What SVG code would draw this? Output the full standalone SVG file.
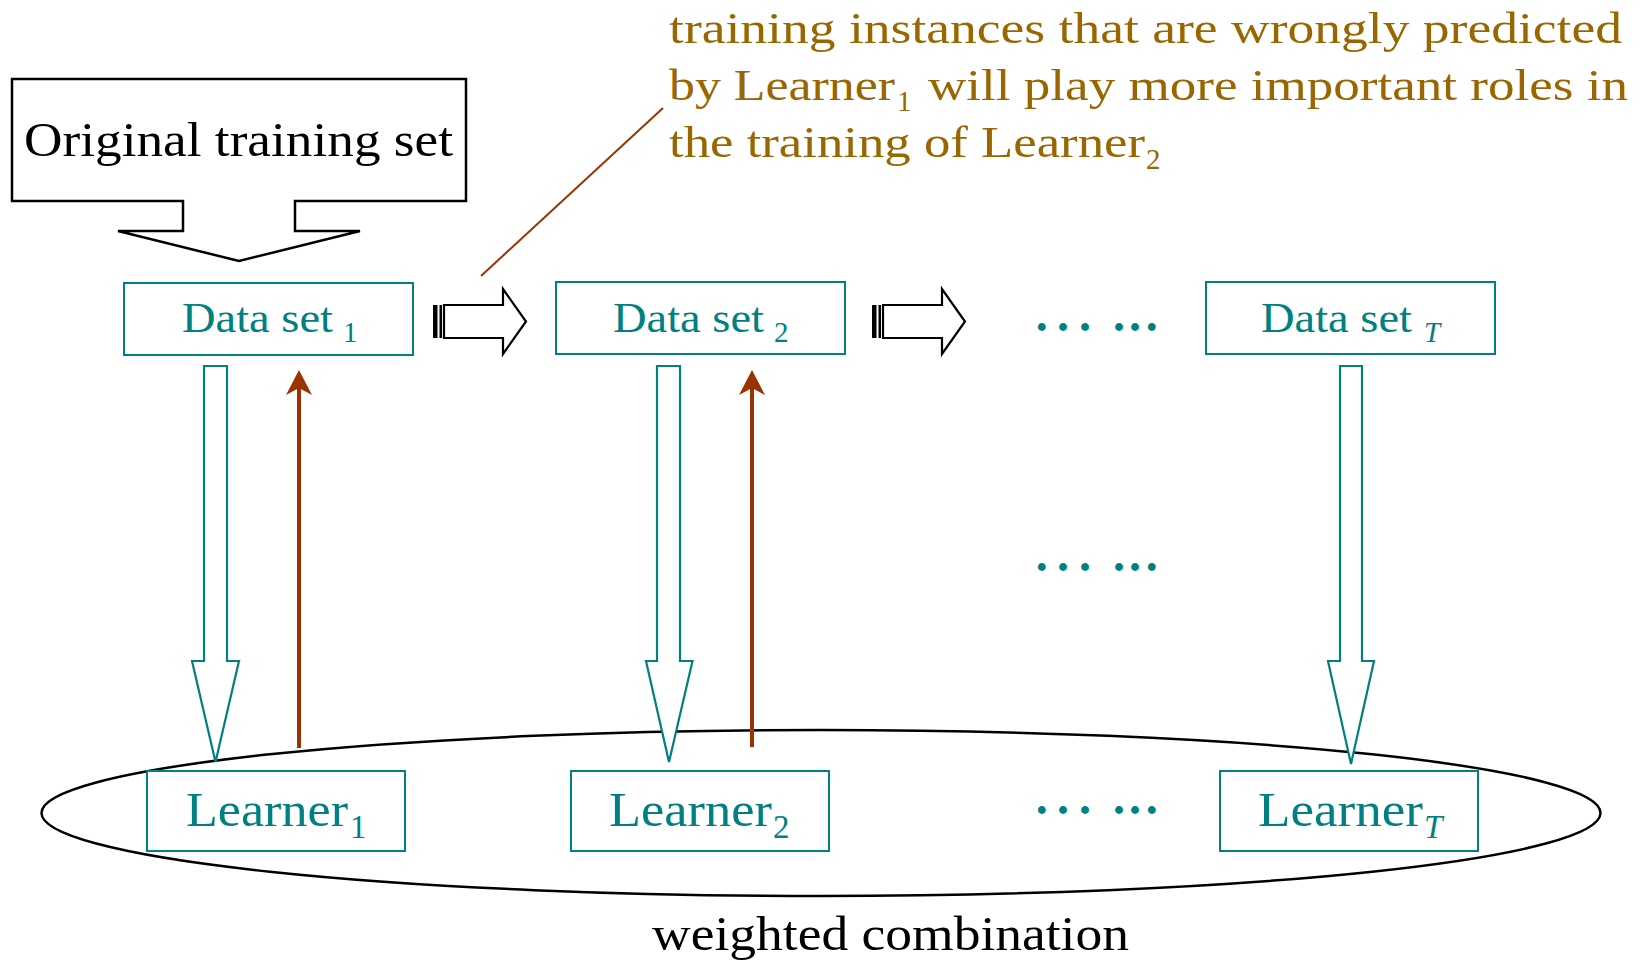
<svg xmlns="http://www.w3.org/2000/svg" width="1644" height="963" viewBox="0 0 1644 963">
<style>
  text { font-family: "Liberation Serif", "Times New Roman", serif; }
  .blk { fill: #000; }
  .teal { fill: #008080; }
  .gold { fill: #996600; }
  .tbox { fill: #fff; stroke: #008080; stroke-width: 2; }
  .tarrow { fill: #fff; stroke: #008080; stroke-width: 2.2; stroke-linejoin: miter; }
  .barrow { fill: #fff; stroke: #000; stroke-width: 2.2; }
  .red { stroke: #993300; stroke-width: 4; fill: none; }
  .callout { stroke: #993300; stroke-width: 2; fill: none; }
  .dots { font-family: "Liberation Serif", serif; font-weight: bold; font-size: 48px; fill: #008080; text-anchor: middle; }
</style>
<defs>
  <marker id="redhead" markerUnits="userSpaceOnUse" markerWidth="30" markerHeight="30" viewBox="0 0 30 30" refX="10" refY="15" orient="auto">
    <path d="M26,15 L1,2 L8,15 L1,28 Z" fill="#993300"/>
  </marker>
</defs>

<g id="connectors">
  <ellipse id="combination-ellipse" cx="821" cy="813" rx="779.5" ry="83" fill="none" stroke="#000" stroke-width="2.5"/>
  <g id="block-arrow-1">
    <rect x="433" y="305" width="4.5" height="33" fill="#000"/>
    <rect x="439.5" y="305" width="2.5" height="33" fill="#000"/>
    <path class="barrow" d="M444,305 H503 V289 L526,321.5 L503,354 V338 H444 Z"/>
  </g>
  <g id="block-arrow-2">
    <rect x="872" y="305" width="4.5" height="33" fill="#000"/>
    <rect x="878.5" y="305" width="2.5" height="33" fill="#000"/>
    <path class="barrow" d="M883,305 H942 V289 L965,321.5 L942,354 V338 H883 Z"/>
  </g>
  <path class="tarrow" d="M204,366 H227 V661 H239 L215.5,762 L192,661 H204 Z"/>
  <path class="tarrow" d="M657,366 H680 V661 H692.5 L669,762 L646,661 H657 Z"/>
  <path class="tarrow" d="M1340,366 H1362 V661 H1374 L1351,764 L1328,661 H1340 Z"/>
  <line class="red" x1="299" y1="748" x2="299" y2="386" marker-end="url(#redhead)"/>
  <line class="red" x1="752" y1="747" x2="752" y2="386" marker-end="url(#redhead)"/>
  <line class="callout" x1="481" y1="276" x2="663" y2="108"/>
</g>

<g id="original-training-set">
  <path d="M12,79 H466 V201 H295 V231 H360 L239,261 L118,231 H183 V201 H12 Z" fill="#fff" stroke="#000" stroke-width="2.5" stroke-linejoin="miter"/>
  <text class="blk" x="24" y="156" font-size="48" textLength="429" lengthAdjust="spacingAndGlyphs">Original training set</text>
</g>

<g id="dataset-1">
  <rect class="tbox" x="124" y="283" width="289" height="72"/>
  <text class="teal" x="182" y="332" font-size="42"><tspan textLength="151" lengthAdjust="spacingAndGlyphs">Data set</tspan><tspan x="343" y="342" font-size="29">1</tspan></text>
</g>
<g id="dataset-2">
  <rect class="tbox" x="556" y="282" width="289" height="72"/>
  <text class="teal" x="613" y="332" font-size="42"><tspan textLength="151" lengthAdjust="spacingAndGlyphs">Data set</tspan><tspan x="774" y="342" font-size="29">2</tspan></text>
</g>
<g id="dataset-T">
  <rect class="tbox" x="1206" y="282" width="289" height="72"/>
  <text class="teal" x="1261" y="332" font-size="42"><tspan textLength="151" lengthAdjust="spacingAndGlyphs">Data set</tspan><tspan x="1424" y="342" font-size="29" font-style="italic">T</tspan></text>
</g>

<g id="learner-1">
  <rect class="tbox" x="147" y="771" width="258" height="80"/>
  <text class="teal" x="186" y="826" font-size="48"><tspan textLength="162" lengthAdjust="spacingAndGlyphs">Learner</tspan><tspan x="350" y="838" font-size="33">1</tspan></text>
</g>
<g id="learner-2">
  <rect class="tbox" x="571" y="771" width="258" height="80"/>
  <text class="teal" x="609" y="826" font-size="48"><tspan textLength="163" lengthAdjust="spacingAndGlyphs">Learner</tspan><tspan x="773" y="838" font-size="33">2</tspan></text>
</g>
<g id="learner-T">
  <rect class="tbox" x="1220" y="771" width="258" height="80"/>
  <text class="teal" x="1258" y="826" font-size="48"><tspan textLength="165" lengthAdjust="spacingAndGlyphs">Learner</tspan><tspan x="1424" y="838" font-size="33" font-style="italic">T</tspan></text>
</g>

<g id="ellipsis-row-1">
  <text class="dots" x="1041.7 1063 1085 1119 1135 1151.7" y="330.5">......</text>
</g>
<g id="ellipsis-row-2">
  <text class="dots" x="1041.7 1063 1085 1119 1135 1151.7" y="571">......</text>
</g>
<g id="ellipsis-row-3">
  <text class="dots" x="1041.7 1063 1085 1119 1135 1151.7" y="814">......</text>
</g>

<g id="annotation">
  <text class="gold" x="669" y="43" font-size="44" textLength="953" lengthAdjust="spacingAndGlyphs">training instances that are wrongly predicted</text>
  <text class="gold" x="669" y="100" font-size="44"><tspan textLength="226" lengthAdjust="spacingAndGlyphs">by Learner</tspan><tspan x="897" y="111" font-size="29">1</tspan><tspan x="928" y="100" textLength="700" lengthAdjust="spacingAndGlyphs">will play more important roles in</tspan></text>
  <text class="gold" x="669" y="157" font-size="44"><tspan textLength="476" lengthAdjust="spacingAndGlyphs">the training of Learner</tspan><tspan x="1146" y="169" font-size="29">2</tspan></text>
</g>

<g id="weighted-combination-label">
  <text class="blk" x="652" y="950" font-size="48" textLength="477" lengthAdjust="spacingAndGlyphs">weighted combination</text>
</g>
</svg>
